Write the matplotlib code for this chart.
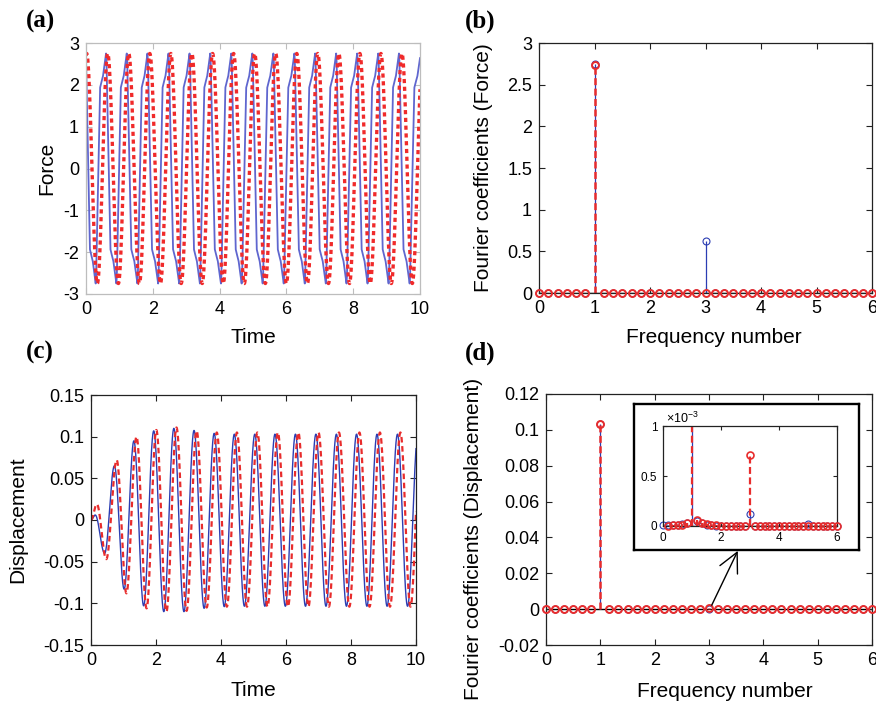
import numpy as np
import matplotlib.pyplot as plt
from matplotlib.ticker import FormatStrFormatter, MultipleLocator

plt.rcParams['font.family'] = ['Liberation Sans', 'DejaVu Sans']
plt.rcParams['axes.unicode_minus'] = False
plt.rcParams['lines.scale_dashes'] = False
plt.rcParams['mathtext.fontset'] = 'custom'
plt.rcParams['mathtext.rm'] = 'Liberation Sans'

# ---------------- data ----------------
# (a) force vs time: times of the extrema of each curve
force_amp = 2.75
force_blue_peaks = [-0.01, 0.60, 1.22, 1.84, 2.47, 3.10, 3.72, 4.35, 4.98, 5.61,
                    6.24, 6.86, 7.49, 8.12, 8.75, 9.37, 10.02]
force_blue_troughs = [0.29, 0.91, 1.54, 2.16, 2.79, 3.41, 4.04, 4.66, 5.29, 5.92,
                      6.55, 7.18, 7.80, 8.43, 9.06, 9.69]
force_red_peaks = [0.02, 0.65, 1.28, 1.91, 2.54, 3.17, 3.79, 4.42, 5.05, 5.68,
                   6.31, 6.94, 7.57, 8.20, 8.83, 9.46, 10.08]
force_red_troughs = [-0.29, 0.34, 0.97, 1.60, 2.23, 2.85, 3.48, 4.11, 4.74, 5.37,
                     6.00, 6.63, 7.26, 7.89, 8.51, 9.14, 9.77]
# shape of the blue force between two extrema (fast jump, shoulder, slow ramp)
force_shape_s = [0.0, 0.04, 0.42, 0.52, 0.70, 0.88, 1.0]
force_shape_f = [0.0, 0.03, 0.85, 0.87, 0.90, 0.96, 1.0]

# (c) displacement vs time: extrema (time, value)
disp_blue_t = [0.0, 0.13, 0.42, 0.72, 1.02, 1.32, 1.62, 1.93, 2.24, 2.55, 2.86, 3.17,
               3.48, 3.79, 4.10, 4.41, 4.72, 5.04, 5.35, 5.66, 5.98, 6.29, 6.60, 6.92,
               7.23, 7.55, 7.86, 8.17, 8.49, 8.80, 9.11, 9.43, 9.74, 10.06]
disp_blue_v = [0.0, 0.006, -0.040, 0.065, -0.083, 0.095, -0.103, 0.107, -0.110, 0.110,
               -0.110, 0.1075, -0.106, 0.104, -0.104, 0.103, -0.1035, 0.103, -0.1035,
               0.103, -0.1035, 0.103, -0.1035, 0.103, -0.1035, 0.103, -0.1035, 0.103,
               -0.1035, 0.103, -0.1035, 0.103, -0.1035, 0.103]
disp_red_t = [0.0, 0.18, 0.47, 0.79, 1.09, 1.40, 1.71, 2.01, 2.32, 2.63, 2.94, 3.25,
              3.56, 3.87, 4.18, 4.49, 4.80, 5.12, 5.43, 5.75, 6.06, 6.38, 6.69, 7.00,
              7.32, 7.63, 7.95, 8.26, 8.57, 8.89, 9.20, 9.52, 9.83, 10.15]
disp_red_v = [0.0, 0.019, -0.047, 0.072, -0.088, 0.100, -0.106, 0.108, -0.110, 0.111,
              -0.109, 0.107, -0.105, 0.105, -0.104, 0.105, -0.104, 0.105, -0.104,
              0.105, -0.104, 0.105, -0.104, 0.105, -0.104, 0.105, -0.104, 0.105,
              -0.104, 0.105, -0.104, 0.105, -0.104, 0.105]

# (b), (d) Fourier coefficients at frequency numbers 0, 1/6, ..., 6
freq_number = np.arange(37) / 6.0
force_coef_blue = [0.0] * 6 + [2.75] + [0.0] * 11 + [0.62] + [0.0] * 18
force_coef_red = [0.0] * 6 + [2.74] + [0.0] * 30
disp_coef_blue_milli = ([0.006, 0.008, 0.010, 0.012, 0.020, 0.035, 103.5,
                         0.050, 0.030, 0.015, 0.008, 0.003] + [0.003] * 6 + [0.120]
                        + [0.003] * 11 + [0.018] + [0.003] * 6)
disp_coef_red_milli = ([0.0, 0.005, 0.006, 0.010, 0.015, 0.030, 103.3,
                        0.058, 0.035, 0.020, 0.012, 0.008] + [0.005] * 6 + [0.710]
                       + [0.004] * 18)

BLUE = '#2b3db3'
RED = '#e82c2c'


def wave(times, values, t, shape=None):
    times = np.asarray(times)
    values = np.asarray(values)
    i = np.clip(np.searchsorted(times, t, side='right') - 1, 0, len(times) - 2)
    s = np.clip((t - times[i]) / (times[i + 1] - times[i]), 0, 1)
    if shape is None:
        f = (1 - np.cos(np.pi * s)) / 2
    else:
        f = np.interp(s, shape[0], shape[1])
    return values[i] + (values[i + 1] - values[i]) * f


def extrema(peaks, troughs, amp):
    t = np.array(peaks + troughs)
    v = np.array([amp] * len(peaks) + [-amp] * len(troughs))
    order = np.argsort(t)
    return t[order], v[order]


def style(ax, color='#222222'):
    for sp in ax.spines.values():
        sp.set_color(color)
        sp.set_linewidth(0.9)
    ax.tick_params(direction='in', top=True, right=True, length=4, width=0.8,
                   color=color, labelsize=13, pad=5, labelcolor='black')


def stems(ax, x, y, color, dashed, lw, mew, ylim_top=None, z=2):
    ml, sl, bl = ax.stem(x, y)
    sl.set_color(color)
    sl.set_linewidth(lw)
    sl.set_zorder(z)
    if dashed:
        sl.set_linestyle((0, (5, 2.5)))
    ml.set_marker('o')
    ml.set_linestyle('none')
    ml.set_markerfacecolor('none')
    ml.set_markeredgecolor(color)
    ml.set_markeredgewidth(mew)
    ml.set_markersize(5)
    ml.set_zorder(z + 0.1)
    ml.set_clip_on(False)
    if ylim_top is not None:
        yy = np.asarray(y, dtype=float)
        ml.set_ydata(np.where(yy > ylim_top, np.nan, yy))
    bl.set_color('black')
    bl.set_linewidth(1)
    bl.set_zorder(1.5)
    return bl


fig = plt.figure(figsize=(8.76, 7.06), dpi=100)
W, H = 876.0, 706.0


def axes_px(l, t, r, b):
    return fig.add_axes([l / W, 1 - b / H, (r - l) / W, (b - t) / H])


tt = np.linspace(0, 10, 6001)

# ---------------- (a) ----------------
ax = axes_px(86, 43, 420, 294)
tb, vb = extrema(force_blue_peaks, force_blue_troughs, force_amp)
tr, vr = extrema(force_red_peaks, force_red_troughs, force_amp)
ax.plot(tt, wave(tb, vb, tt, (force_shape_s, force_shape_f)), color='#5f66cf', lw=1.3)
ax.plot(tt, wave(tr, vr, tt), color='#f02a2a', lw=2.4, dashes=(3, 2.6))
ax.set_xlim(0, 10)
ax.set_ylim(-3, 3)
ax.xaxis.set_major_locator(MultipleLocator(2))
ax.yaxis.set_major_locator(MultipleLocator(1))
style(ax, '#bdbdbd')
ax.set_xlabel('Time', fontsize=15)
ax.xaxis.set_label_coords(0.5, -0.135)
ax.set_ylabel('Force', fontsize=15)
ax.yaxis.set_label_coords(-0.09, 0.5)

# ---------------- (b) ----------------
ax = axes_px(539, 43, 872, 293)
stems(ax, freq_number, force_coef_blue, BLUE, False, 0.9, 0.8)
bl = stems(ax, freq_number, force_coef_red, RED, True, 1.8, 1.4, z=2.5)
bl.set_visible(False)
ax.set_xlim(0, 6)
ax.set_ylim(0, 3)
ax.xaxis.set_major_locator(MultipleLocator(1))
ax.yaxis.set_major_locator(MultipleLocator(0.5))
ax.yaxis.set_major_formatter(FormatStrFormatter('%g'))
style(ax)
ax.set_xlabel('Frequency number', fontsize=15)
ax.xaxis.set_label_coords(0.524, -0.14)
ax.set_ylabel('Fourier coefficients (Force)', fontsize=15)
ax.yaxis.set_label_coords(-0.138, 0.5)

# ---------------- (c) ----------------
ax = axes_px(91, 395, 416, 645)
ax.plot(tt, wave(disp_blue_t, disp_blue_v, tt), color=BLUE, lw=1.0)
ax.plot(tt, wave(disp_red_t, disp_red_v, tt), color=RED, lw=1.6, dashes=(4, 2.6))
ax.set_xlim(0, 10)
ax.set_ylim(-0.15, 0.15)
ax.xaxis.set_major_locator(MultipleLocator(2))
ax.yaxis.set_major_locator(MultipleLocator(0.05))
ax.yaxis.set_major_formatter(FormatStrFormatter('%g'))
style(ax)
ax.set_xlabel('Time', fontsize=15)
ax.xaxis.set_label_coords(0.5, -0.144)
ax.set_ylabel('Displacement', fontsize=15)
ax.yaxis.set_label_coords(-0.197, 0.5)

# ---------------- (d) ----------------
ax = axes_px(546, 394, 872, 645)
disp_blue = np.array(disp_coef_blue_milli) * 1e-3
disp_red = np.array(disp_coef_red_milli) * 1e-3
stems(ax, freq_number, disp_blue, BLUE, False, 0.9, 0.8)
bl = stems(ax, freq_number, disp_red, RED, True, 1.8, 1.4, z=2.5)
bl.set_visible(False)
ax.set_xlim(0, 6)
ax.set_ylim(-0.02, 0.12)
ax.xaxis.set_major_locator(MultipleLocator(1))
ax.yaxis.set_major_locator(MultipleLocator(0.02))
ax.yaxis.set_major_formatter(FormatStrFormatter('%g'))
style(ax)
ax.set_xlabel('Frequency number', fontsize=15)
ax.xaxis.set_label_coords(0.55, -0.147)
ax.set_ylabel('Fourier coefficients (Displacement)', fontsize=15)
ax.yaxis.set_label_coords(-0.193, 0.422)
ax.annotate('', xy=(3.53, 0.0325), xytext=(3.05, 0.0022),
            arrowprops=dict(arrowstyle='->,head_length=0.7,head_width=0.35',
                            color='black', lw=1.0, mutation_scale=20,
                            shrinkA=0, shrinkB=0), zorder=5)

# inset frame
frame = axes_px(634, 404, 859, 550)
frame.set_xticks([])
frame.set_yticks([])
for sp in frame.spines.values():
    sp.set_linewidth(1.7)
    sp.set_color('black')

ins = axes_px(663, 426, 837, 526)
stems(ins, freq_number, disp_coef_blue_milli, BLUE, False, 0.9, 0.8, ylim_top=1)
stems(ins, freq_number[1:], disp_coef_red_milli[1:], RED, True, 1.6, 1.2,
      ylim_top=1, z=2.5).set_visible(False)
ins.set_xlim(0, 6)
ins.set_ylim(0, 1)
ins.set_xticks([0, 2, 4, 6])
ins.set_yticks([0, 0.5, 1])
ins.yaxis.set_major_formatter(FormatStrFormatter('%g'))
style(ins)
ins.tick_params(labelsize=8.5, length=3, pad=4)
ins.text(0.02, 1.0, r'$\times\mathrm{10}^{\mathrm{-3}}$', transform=ins.transAxes,
         fontsize=9, va='bottom', ha='left')

# panel letters
for lbl, x, y in [('(a)', 26, 21), ('(b)', 465, 21), ('(c)', 26, 352), ('(d)', 465, 353)]:
    fig.text(x / W, 1 - y / H, lbl, fontfamily='Liberation Serif', fontweight='bold',
             fontsize=18, va='center', ha='left')

fig.savefig('out.png', dpi=100)
